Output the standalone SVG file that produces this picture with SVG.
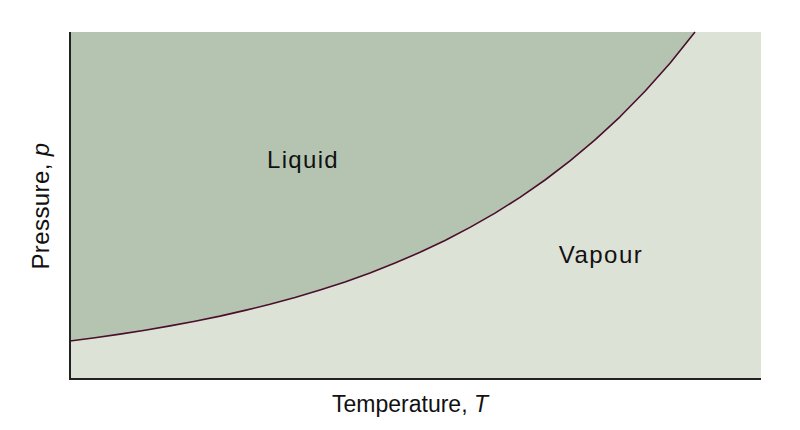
<svg xmlns="http://www.w3.org/2000/svg" width="800" height="430" viewBox="0 0 800 430">
<style>
.lbl{font-family:"Liberation Sans",Arial,Helvetica,sans-serif;font-size:24px;fill:#111;text-anchor:middle}
</style>
<defs>
<path id="curve" d="M70,341 L95,337.7 L120,334.1 L145,330.2 L170,325.9 L195,321.2 L220,316.1 L245,310.4 L270,304.3 L295,297.5 L320,290 L345,281.9 L370,272.9 L395,263.1 L420,252.3 L445,240.5 L470,227.4 L495,213.1 L520,197.4 L545,180 L570,160.9 L595,139.9 L620,116.8 L645,91.3 L670,63.2 L695,32"/>
</defs>
<rect width="800" height="430" fill="#ffffff"/>
<g id="vapour-region">
<rect x="70" y="32" width="691" height="347" fill="#dde2d7"/>
</g>
<g id="liquid-region">
<path d="M70,32 L695,32 L670,63.2 L645,91.3 L620,116.8 L595,139.9 L570,160.9 L545,180 L520,197.4 L495,213.1 L470,227.4 L445,240.5 L420,252.3 L395,263.1 L370,272.9 L345,281.9 L320,290 L295,297.5 L270,304.3 L245,310.4 L220,316.1 L195,321.2 L170,325.9 L145,330.2 L120,334.1 L95,337.7 L70,341 Z" fill="#b5c4b1"/>
</g>
<g id="connectors">
<use href="#curve" fill="none" stroke="#4a0f2c" stroke-width="1.6" stroke-linejoin="round"/>
</g>
<g id="axes">
<path d="M70,32 L70,379 L761,379" fill="none" stroke="#222" stroke-width="2"/>
</g>
<g id="label-liquid"><text class="lbl" x="303" y="168" letter-spacing="1.3">Liquid</text></g>
<g id="label-vapour"><text class="lbl" x="601" y="263" letter-spacing="1.5">Vapour</text></g>
<g id="label-x"><text class="lbl" x="410" y="412" style="font-size:23px">Temperature, <tspan font-style="italic">T</tspan></text></g>
<g id="label-y"><text class="lbl" transform="translate(49,206) rotate(-90)" letter-spacing="0.4">Pressure, <tspan font-style="italic">p</tspan></text></g>
</svg>
